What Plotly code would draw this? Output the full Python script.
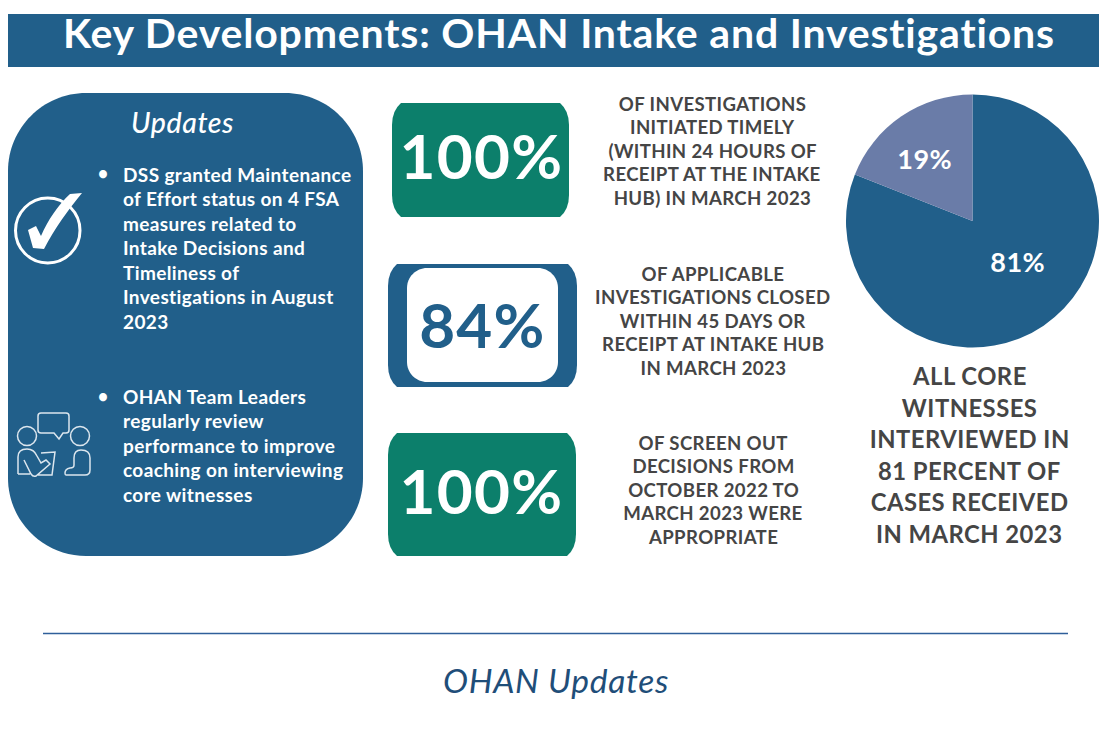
import plotly.graph_objects as go

W, H = 1099, 729
BLUE = "#215F8A"
GREEN = "#0C7F6B"
GRAY = "#454545"
SLICE = "#6A7CA8"

pie_labels = ["All core witnesses interviewed", "Not all interviewed"]
pie_values = [81, 19]
pie_text = ["81%", "19%"]

title = "Key Developments: OHAN Intake and Investigations"
footer = "OHAN Updates"
panel_heading = "Updates"
bullet_one = ["DSS granted Maintenance", "of Effort status on 4 FSA", "measures related to",
              "Intake Decisions and", "Timeliness of", "Investigations in August", "2023"]
bullet_two = ["OHAN Team Leaders", "regularly review", "performance to improve",
              "coaching on interviewing", "core witnesses"]
stats = ["100%", "84%", "100%"]
stat_one = ["OF INVESTIGATIONS", "INITIATED TIMELY", "(WITHIN 24 HOURS OF", "RECEIPT AT THE INTAKE", "HUB) IN MARCH 2023"]
stat_two = ["OF APPLICABLE", "INVESTIGATIONS CLOSED", "WITHIN 45 DAYS OR", "RECEIPT AT INTAKE HUB", "IN MARCH 2023"]
stat_three = ["OF SCREEN OUT", "DECISIONS FROM", "OCTOBER 2022 TO", "MARCH 2023 WERE", "APPROPRIATE"]
pie_caption = ["ALL CORE", "WITNESSES", "INTERVIEWED IN", "81 PERCENT OF", "CASES RECEIVED", "IN MARCH 2023"]

fig = go.Figure()
fig.add_trace(go.Pie(
    labels=pie_labels, values=pie_values, sort=False, direction="clockwise", rotation=0,
    marker=dict(colors=[BLUE, SLICE], line=dict(width=0)),
    textinfo="none", hoverinfo="label+percent", showlegend=False,
    domain=dict(x=[846 / W, 1], y=[1 - 348 / H, 1 - 94 / H]),
))

shapes, anns = [], []


def text(x, y, s, size, color="white", anchor="center", weight=700, style="normal"):
    anns.append(dict(x=x, y=y, text=s, showarrow=False, xanchor=anchor, yanchor="middle",
                     xref="x", yref="y", align=anchor,
                     font=dict(family="Lato", size=size, color=color, weight=weight, style=style)))


def lines(x, y0, dy, rows, size, color="white", anchor="left", weight=700):
    for i, r in enumerate(rows):
        text(x, y0 + i * dy, r, size, color, anchor, weight)


def path(d, fill=None, line=None, width=0):
    shapes.append(dict(type="path", path=d, xref="x", yref="y", layer="below",
                       fillcolor=fill or "rgba(0,0,0,0)",
                       line=dict(color=line or "rgba(0,0,0,0)", width=width)))


def rrect(x0, y0, x1, y1, r):
    k = r * 0.45
    return (f"M{x0+r},{y0} L{x1-r},{y0} C{x1-k},{y0} {x1},{y0+k} {x1},{y0+r} "
            f"L{x1},{y1-r} C{x1},{y1-k} {x1-k},{y1} {x1-r},{y1} "
            f"L{x0+r},{y1} C{x0+k},{y1} {x0},{y1-k} {x0},{y1-r} "
            f"L{x0},{y0+r} C{x0},{y0+k} {x0+k},{y0} {x0+r},{y0} Z")


def clipped(x0, y0, x1, y1, cx, cy):
    return (f"M{x0+cx},{y0} L{x1-cx},{y0} Q{x1},{y0+cy*0.35} {x1},{y0+cy} "
            f"L{x1},{y1-cy} Q{x1},{y1-cy*0.35} {x1-cx},{y1} "
            f"L{x0+cx},{y1} Q{x0},{y1-cy*0.35} {x0},{y1-cy} "
            f"L{x0},{y0+cy} Q{x0},{y0+cy*0.35} {x0+cx},{y0} Z")


# header band
shapes.append(dict(type="rect", x0=8, x1=1099, y0=14, y1=67, fillcolor=BLUE, line_width=0, layer="below"))
text(559, 32, title, 41)

# left panel
path(rrect(8, 93, 363, 556, 78), fill=BLUE)
text(182, 122, panel_heading, 28.5, style="italic", weight=500)
for ys in (173, 396):
    text(103, ys, "•", 18)
lines(121, 174, 24.5, bullet_one, 19)
lines(121, 396.5, 24.4, bullet_two, 19)

# check icon
shapes.append(dict(type="circle", x0=15.5, x1=80, y0=198, y1=263, xref="x", yref="y",
                   line=dict(color="white", width=3), fillcolor="rgba(0,0,0,0)"))
path("M28,230 L36,226 L41,236 C48,220 58,205 70,194 L82,193 C68,210 55,228 44,249 L33,248 Z", fill="white")

# people icon
ic = "#DCE6EE"
for cx, cy in ((27, 436), (80, 436)):
    shapes.append(dict(type="circle", x0=cx - 9.5, x1=cx + 9.5, y0=cy - 9.5, y1=cy + 9.5,
                       line=dict(color=ic, width=1.5), fillcolor="rgba(0,0,0,0)"))
path("M41,413 L66,413 Q69,413 69,416 L69,430 Q69,433 66,433 L63,433 L59,439 L54,433 "
     "L41,433 Q38,433 38,430 L38,416 Q38,413 41,413 Z", line=ic, width=1.5)
path("M18,474 L18,457 Q18,449 27,449 Q34,449 37,456 L41,463 L46,460 L50,464 L36,476 Q33,477 31,474 L24,460 "
     "M18,474 L30,474 M41,453 L55,452 L52,475 L38,475", line=ic, width=1.5)
path("M66,475 L85,475 Q90,475 90,470 L90,458 Q90,450 81,450 Q74,450 74,458 L74,465 Q74,468 70,468 "
     "Q65,469 65,473 Q65,475 66,475 Z", line=ic, width=1.5)

# stat boxes
path(clipped(392, 103, 569, 217, 9, 22), fill=GREEN)
path(clipped(388, 264, 577, 387, 9, 22), fill=BLUE)
path(rrect(407, 268, 558, 382, 20), fill="white")
path(clipped(388, 433, 576, 556, 9, 22), fill=GREEN)
text(481.5, 155, stats[0], 62)
text(482, 324, stats[1], 62, color=BLUE)
text(481.5, 490, stats[2], 62)

lines(712, 103.5, 23.5, stat_one, 18.6, GRAY, "center")
lines(713, 273.5, 23.5, stat_two, 18.6, GRAY, "center")
lines(713, 442.5, 23.5, stat_three, 18.6, GRAY, "center")

# pie labels and caption
text(924, 158.5, pie_text[1], 27, weight=700)
text(1017, 261.5, pie_text[0], 27, weight=700)
lines(969, 376, 31.6, pie_caption, 23.8, GRAY, "center")

# divider and footer
shapes.append(dict(type="line", x0=43, x1=1068, y0=633.5, y1=633.5, line=dict(color="#2F5F9A", width=1.5), layer="below"))
text(556, 680, footer, 33.6, color="#1F4E79", style="italic", weight=400)

fig.update_layout(
    width=W, height=H, margin=dict(l=0, r=0, t=0, b=0, pad=0),
    paper_bgcolor="white", plot_bgcolor="rgba(0,0,0,0)",
    xaxis=dict(range=[0, W], visible=False, fixedrange=True),
    yaxis=dict(range=[H, 0], visible=False, fixedrange=True),
    shapes=shapes, annotations=anns, showlegend=False,
)
css = ".annotation-text{letter-spacing:0.02em;font-variant-ligatures:none;}"
fig.write_html("out.html", config=dict(displayModeBar=False),
               post_script=("document.body.style.margin='0';document.documentElement.style.overflow='hidden';"
                            "var s=document.createElement('style');s.textContent='" + css + "';document.head.appendChild(s);"))
